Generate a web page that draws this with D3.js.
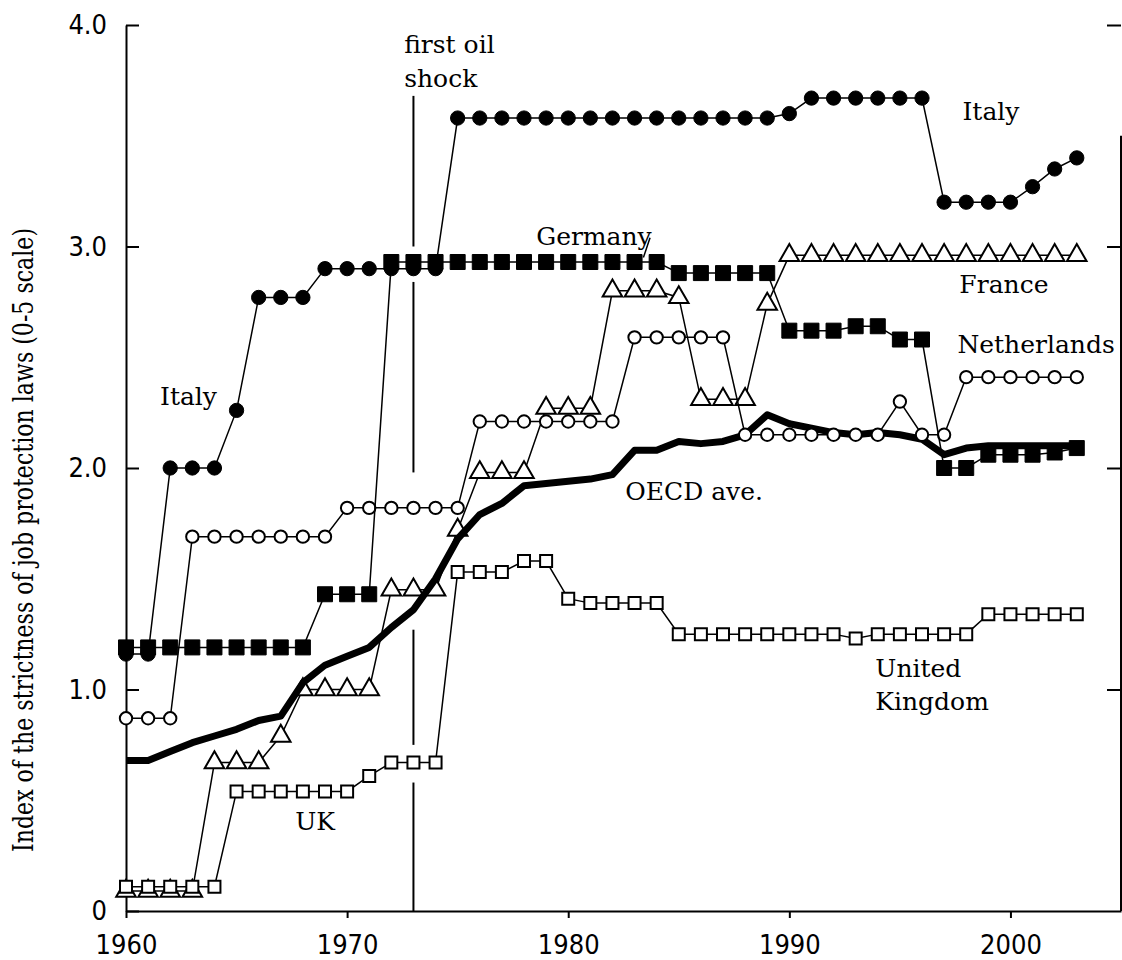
<!DOCTYPE html>
<html><head><meta charset="utf-8">
<script src="https://cdn.jsdelivr.net/npm/d3@7/dist/d3.min.js"></script>
<style>
body{margin:0;background:#fff}
text{fill:#000}
.lbl{font-family:"DejaVu Serif",serif;font-size:25px}
.tick text{font-family:"Liberation Sans Narrow","DejaVu Sans Condensed",sans-serif;font-size:27px}
</style>
</head><body>
<svg id="chart" width="1122" height="960"></svg>
<script>
// ---------------- data ----------------
const years = [1960,1961,1962,1963,1964,1965,1966,1967,1968,1969,
               1970,1971,1972,1973,1974,1975,1976,1977,1978,1979,
               1980,1981,1982,1983,1984,1985,1986,1987,1988,1989,
               1990,1991,1992,1993,1994,1995,1996,1997,1998,1999,
               2000,2001,2002,2003];

const italy = [1.16,1.16,2.00,2.00,2.00,2.26,2.77,2.77,2.77,2.90,
               2.90,2.90,2.90,2.90,2.90,3.58,3.58,3.58,3.58,3.58,
               3.58,3.58,3.58,3.58,3.58,3.58,3.58,3.58,3.58,3.58,
               3.60,3.67,3.67,3.67,3.67,3.67,3.67,3.20,3.20,3.20,
               3.20,3.27,3.35,3.40];

const germany = [1.19,1.19,1.19,1.19,1.19,1.19,1.19,1.19,1.19,1.43,
                 1.43,1.43,2.93,2.93,2.93,2.93,2.93,2.93,2.93,2.93,
                 2.93,2.93,2.93,2.93,2.93,2.88,2.88,2.88,2.88,2.88,
                 2.62,2.62,2.62,2.64,2.64,2.58,2.58,2.00,2.00,2.06,
                 2.06,2.06,2.07,2.09];

const france = [0.09,0.09,0.09,0.09,0.67,0.67,0.67,0.79,1.00,1.00,
                1.00,1.00,1.45,1.45,1.45,1.72,1.98,1.98,1.98,2.27,
                2.27,2.27,2.80,2.80,2.80,2.77,2.31,2.31,2.31,2.74,
                2.96,2.96,2.96,2.96,2.96,2.96,2.96,2.96,2.96,2.96,
                2.96,2.96,2.96,2.96];

const netherlands = [0.87,0.87,0.87,1.69,1.69,1.69,1.69,1.69,1.69,1.69,
                     1.82,1.82,1.82,1.82,1.82,1.82,2.21,2.21,2.21,2.21,
                     2.21,2.21,2.21,2.59,2.59,2.59,2.59,2.59,2.15,2.15,
                     2.15,2.15,2.15,2.15,2.15,2.30,2.15,2.15,2.41,2.41,
                     2.41,2.41,2.41,2.41];

const uk = [0.11,0.11,0.11,0.11,0.11,0.54,0.54,0.54,0.54,0.54,
            0.54,0.61,0.67,0.67,0.67,1.53,1.53,1.53,1.58,1.58,
            1.41,1.39,1.39,1.39,1.39,1.25,1.25,1.25,1.25,1.25,
            1.25,1.25,1.25,1.23,1.25,1.25,1.25,1.25,1.25,1.34,
            1.34,1.34,1.34,1.34];

const oecd = [0.68,0.68,0.72,0.76,0.79,0.82,0.86,0.88,1.03,1.11,
              1.15,1.19,1.28,1.36,1.50,1.68,1.79,1.84,1.92,1.93,
              1.94,1.95,1.97,2.08,2.08,2.12,2.11,2.12,2.15,2.24,
              2.20,2.18,2.16,2.15,2.16,2.15,2.13,2.06,2.09,2.10,
              2.10,2.10,2.10,2.10];

const yTicks = [0, 1, 2, 3, 4];
const yTickLabels = ["0", "1.0", "2.0", "3.0", "4.0"];
const xTicks = [1960, 1970, 1980, 1990, 2000];
const xTickLabels = ["1960", "1970", "1980", "1990", "2000"];

const oilShockYear = 1973;
const oilShockSpans = [[3.68, 3.00], [2.84, 1.98], [1.27, 0.75], [0.58, 0]];

const yTitle = "Index of the strictness of job protection laws (0-5 scale)";

// annotation labels anchored in data units (year, index value)
const labels = [
  {t: "first oil", yr: 1972.58, v: 3.874},
  {t: "shock", yr: 1972.58, v: 3.72},
  {t: "Germany", yr: 1978.55, v: 3.007},
  {t: "Italy", yr: 1997.83, v: 3.571},
  {t: "France", yr: 1997.69, v: 2.79},
  {t: "Netherlands", yr: 1997.6, v: 2.519},
  {t: "Italy", yr: 1961.54, v: 2.284},
  {t: "OECD ave.", yr: 1982.58, v: 1.856},
  {t: "UK", yr: 1967.65, v: 0.366},
  {t: "United", yr: 1993.89, v: 1.056},
  {t: "Kingdom", yr: 1993.89, v: 0.907}
];
const germanyLeader = [[1983.7, 3.04], [1983.4, 2.95]];

// ---------------- drawing ----------------
const svg = d3.select("#chart");
const x = d3.scaleLinear().domain([1960, 2005]).range([126, 1121]);
const y = d3.scaleLinear().domain([0, 4]).range([911, 25]);

function styleAxis(g){
  g.selectAll("path,line").attr("stroke", "#000").attr("stroke-width", 2);
}

// left axis
svg.append("g").attr("transform", `translate(${x(1960)},0)`)
  .call(d3.axisLeft(y).tickValues(yTicks).tickFormat((d,i)=>yTickLabels[i])
        .tickSizeInner(-13).tickSizeOuter(0).tickPadding(19))
  .call(styleAxis);

// bottom axis
svg.append("g").attr("transform", `translate(0,${y(0)})`)
  .call(d3.axisBottom(x).tickValues(xTicks).tickFormat((d,i)=>xTickLabels[i])
        .tickSizeInner(7).tickSizeOuter(0).tickPadding(17))
  .call(styleAxis);

// right axis (ticks only, partial spine)
const ra = svg.append("g").attr("transform", `translate(${x(2005)},0)`)
  .call(d3.axisRight(y).tickValues(yTicks.slice(1)).tickFormat("")
        .tickSizeInner(-14).tickSizeOuter(0))
  .call(styleAxis);
ra.select(".domain").remove();
svg.append("line")
  .attr("x1", x(2005)).attr("x2", x(2005))
  .attr("y1", y(3.5)).attr("y2", y(0))
  .attr("stroke", "#000").attr("stroke-width", 2);

// y title
svg.append("text")
  .attr("class", "lbl")
  .attr("transform", `translate(33,540) rotate(-90)`)
  .attr("text-anchor", "middle")
  .style("font-size", "27px")
  .attr("textLength", 624)
  .attr("lengthAdjust", "spacingAndGlyphs")
  .text(yTitle);

// oil shock line
svg.append("g").selectAll("line").data(oilShockSpans).join("line")
  .attr("x1", x(oilShockYear)).attr("x2", x(oilShockYear))
  .attr("y1", d => y(d[0])).attr("y2", d => y(d[1]))
  .attr("stroke", "#000").attr("stroke-width", 2);

const line = d3.line().x(d => x(d.yr)).y(d => y(d.v));
const toPts = arr => arr.map((v, i) => ({yr: years[i], v}));

function drawSeries(values, symbolType, size, filled){
  const pts = toPts(values);
  const g = svg.append("g");
  g.append("path").attr("d", line(pts)).attr("fill", "none")
    .attr("stroke", "#000").attr("stroke-width", 1.5);
  g.selectAll("path.m").data(pts).join("path").attr("class", "m")
    .attr("transform", d => `translate(${x(d.yr)},${y(d.v)})`)
    .attr("d", d3.symbol(symbolType, size))
    .attr("fill", filled ? "#000" : "#fff")
    .attr("stroke", "#000").attr("stroke-width", filled ? 1 : 2);
}

drawSeries(france, d3.symbolTriangle, 165, false);

// OECD average thick line
svg.append("path").attr("d", line(toPts(oecd))).attr("fill", "none")
  .attr("stroke", "#000").attr("stroke-width", 7).attr("stroke-linejoin", "round");

drawSeries(uk, d3.symbolSquare, 144, false);
drawSeries(netherlands, d3.symbolCircle, 120, false);
drawSeries(germany, d3.symbolSquare, 225, true);
drawSeries(italy, d3.symbolCircle, 160, true);

// Germany leader line
svg.append("path").attr("d", d3.line().x(d => x(d[0])).y(d => y(d[1]))(germanyLeader))
  .attr("stroke", "#000").attr("stroke-width", 1.5).attr("fill", "none");

// labels
svg.append("g").selectAll("text").data(labels).join("text")
  .attr("class", "lbl")
  .attr("x", d => x(d.yr)).attr("y", d => y(d.v))
  .text(d => d.t);
</script>
</body></html>
